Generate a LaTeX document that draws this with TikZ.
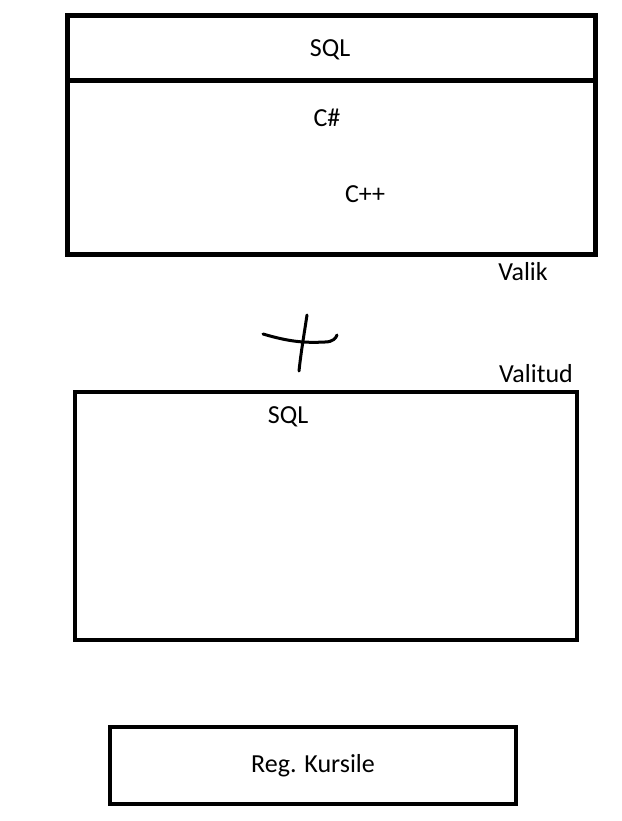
\documentclass[tikz,border=0pt]{standalone}
\usepackage{fontspec}
\setmainfont{Carlito}
\usetikzlibrary{positioning}

\begin{document}
\begin{tikzpicture}[x=1pt, y=-1pt, font=\fontsize{26}{30}\selectfont,
  box/.style={draw, line width=4.5pt, inner sep=0pt},
  lbl/.style={inner sep=0pt, anchor=center}]
\useasboundingbox (0,0) rectangle (621,821);
% boxes
\node[box, line width=5pt, minimum width=528.5pt, minimum height=65pt] (header) at (331.25,48) {};
\node[box, line width=5pt, minimum width=528pt, minimum height=173.5pt] (skills) at (331.5,167.25) {};
\node[box, line width=4pt, minimum width=502pt, minimum height=248pt] (chosen) at (326,516) {};
\node[box, line width=4pt, minimum width=406pt, minimum height=77pt] (register) at (313,765.5) {Reg. Kursile};
% texts
\node[lbl] (sqlTop) at (330,50) {SQL};
\node[lbl] (csharp) at (327,118) {C\#};
\node[lbl] (cpp) at (365,194) {C++};
\node[lbl] (valik) at (523,272) {Valik};
\node[lbl] (valitud) at (536,374) {Valitud};
\node[lbl] (sqlMid) at (288,417) {SQL};
% plus
\draw[line width=3pt, line cap=round] (263,334) .. controls (290,342) and (305,343) .. (325,342) .. controls (333,342) and (336,338) .. (337,335);
\draw[line width=3pt, line cap=round] (307,315) .. controls (304,335) and (301,352) .. (299,371);
\end{tikzpicture}
\end{document}
